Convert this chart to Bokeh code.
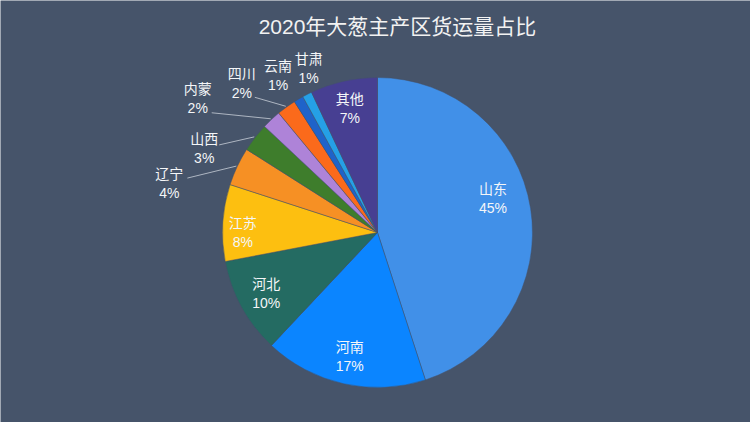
import numpy as np
from bokeh.plotting import figure
from bokeh.models import Range1d, ColumnDataSource
from bokeh.core.properties import value
from bokeh.embed import file_html
from bokeh.resources import INLINE

# ---- data ----
title = "2020年大葱主产区货运量占比"
names = ["山东", "河南", "河北", "江苏", "辽宁", "山西", "内蒙", "四川", "云南", "甘肃", "其他"]
shares = [45, 17, 10, 8, 4, 3, 2, 2, 1, 1, 7]

# ---- style / layout ----
colors = ["#4190e8", "#0b85ff", "#246b62", "#fdbf10", "#f69024", "#3e7d2c",
          "#ae83d8", "#fb6a1b", "#1f63c9", "#25a0e6", "#473f92"]
BG = "#46546a"
W, H = 750, 422
CX, CY_PX, R = 377, 232, 155
FONT = "Liberation Sans, Noto Sans CJK SC"
inside = {"山东", "河南", "河北", "江苏", "其他"}
inside_r = 127
# pixel nudges (dx, dy downwards) for label centers
inside_nudge = {"山东": (-10, -14), "江苏": (-8, 8)}
outside_text_off = {"辽宁": (-67, 17), "山西": (-50, 12), "内蒙": (-73, -20),
                    "四川": (-44, -23), "云南": (-20, -23), "甘肃": (2, -25)}
outside_line_off = {"辽宁": (-49, 12), "山西": (-35, 8), "内蒙": (-59, -6),
                    "四川": (-31, -9)}

CY = H - CY_PX

vals = np.array(shares, dtype=float)
frac = vals / vals.sum()
cum_end = np.cumsum(frac)
cum_start = cum_end - frac
start = np.pi / 2 - 2 * np.pi * cum_start
end = np.pi / 2 - 2 * np.pi * cum_end
mid_theta = 2 * np.pi * (cum_start + cum_end) / 2  # clockwise from top

p = figure(width=W, height=H, x_range=Range1d(0, W), y_range=Range1d(0, H),
           output_backend="svg", toolbar_location=None,
           x_axis_location=None, y_axis_location=None, min_border=0)
p.background_fill_color = BG
p.border_fill_color = BG
p.outline_line_color = None
p.grid.visible = False

src = ColumnDataSource(dict(start=start, end=end, color=colors))
p.wedge(x=CX, y=CY, radius=R, start_angle="start", end_angle="end",
        direction="clock", fill_color="color", line_color="#44526a",
        line_width=0.5, source=src)

nx, ny, px_, py_ = [], [], [], []
lxs, lys = [], []
labels_n, labels_p = [], []
for i, nm in enumerate(names):
    th = mid_theta[i]
    sx, sy = np.sin(th), np.cos(th)
    if nm in inside:
        dx, dy = inside_nudge.get(nm, (0, 0))
        x = CX + inside_r * sx + dx
        y = CY + inside_r * sy - dy
    else:
        ex = CX + (R + 1) * sx
        ey = CY + (R + 1) * sy
        dx, dy = outside_text_off[nm]
        x = ex + dx
        y = ey - dy
        if nm in outside_line_off:
            ldx, ldy = outside_line_off[nm]
            lxs.append([ex, ex + ldx])
            lys.append([ey, ey - ldy])
    labels_n.append(nm)
    labels_p.append(f"{shares[i]}%")
    nx.append(x); ny.append(y + 9.5)
    px_.append(x); py_.append(y - 9.5)

p.multi_line(xs=lxs, ys=lys, line_color="#aeb6c2", line_width=1)

common = dict(text_font=value(FONT), text_font_size="14px", text_color="#f4f6f8",
              text_align="center", text_baseline="middle")
p.text(x=nx, y=ny, text=labels_n, **common)
p.text(x=px_, y=py_, text=labels_p, **common)

p.text(x=[397], y=[H - 26], text=[title], text_font=value(FONT),
       text_font_size="21px", text_color="#f2f2f2", text_align="center",
       text_baseline="middle")

open("out.html", "w").write(file_html(p, INLINE))
